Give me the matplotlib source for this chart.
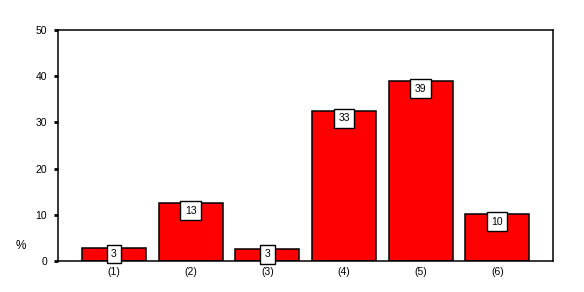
import matplotlib
matplotlib.use("Agg")
import matplotlib.pyplot as plt

plt.rcParams['font.family'] = ['Liberation Sans', 'DejaVu Sans']

# Anteile in Prozent
kategorien = ['(1)', '(2)', '(3)', '(4)', '(5)', '(6)']
werte = [2.8, 12.5, 2.7, 32.5, 38.9, 10.1]
etiketten = ['3', '13', '3', '33', '39', '10']

fig = plt.figure(figsize=(5.84, 2.92), dpi=100)
ax = fig.add_axes([0.0993, 0.106, 0.848, 0.791])

x = list(range(len(kategorien)))
ax.bar(x, werte, width=0.835, color='#ff0000', edgecolor='black', linewidth=1.1, zorder=2)

# weisse Kästchen mit den gerundeten Werten
for xi, w, lab in zip(x, werte, etiketten):
    if w > 5:
        y, va = w - 0.5, 'top'
    else:
        y, va = w / 2 + 0.1, 'center'
    ax.text(xi, y, lab, ha='center', va=va, fontsize=7.5, zorder=3,
            bbox=dict(boxstyle='square,pad=0.42', fc='white', ec='black', lw=1.0))

ax.set_xlim(-0.73, 5.73)
ax.set_ylim(0, 50)
ax.set_yticks([0, 10, 20, 30, 40, 50])
ax.set_xticks(x)
ax.set_xticklabels(kategorien)
ax.tick_params(axis='y', direction='out', length=3, width=2, labelsize=7.5, pad=5)
ax.tick_params(axis='x', length=0, labelsize=7.5, pad=4)
for s in ax.spines.values():
    s.set_linewidth(1.1)

fig.text(0.035, 1 - 246 / 292, '%', fontsize=8.5, ha='center', va='center')

fig.savefig('out.png', dpi=100)
